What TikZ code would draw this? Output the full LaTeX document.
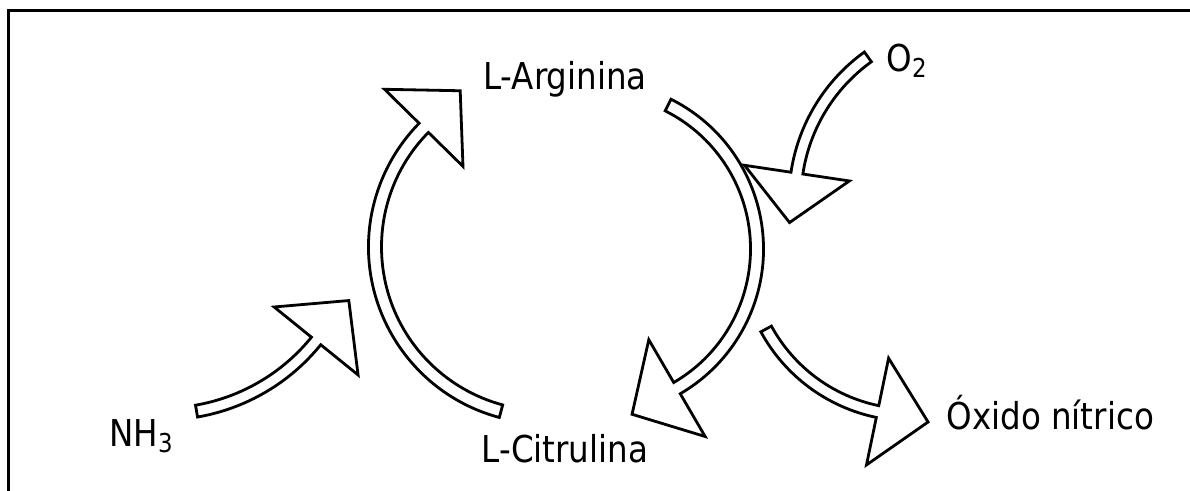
\documentclass[tikz,border=0pt]{standalone}
\usepackage{fontspec}
\setmainfont{DejaVu Sans}[FakeStretch=0.88]
\usetikzlibrary{calc}

% Hollow curved block arrow along a circular arc.
% #1 centre, #2 radius, #3 start angle, #4 end angle,
% #5 half shaft width, #6 half head width, #7 head length
\newcommand\curvedblockarrow[7]{%
  \pgfmathsetmacro\cbaOut{#2+#5}%
  \pgfmathsetmacro\cbaIn{#2-#5}%
  \pgfmathsetmacro\cbaHeadOut{#2+#6}%
  \pgfmathsetmacro\cbaHeadIn{#2-#6}%
  \pgfmathsetmacro\cbaSign{(#4>#3) ? 1 : -1}%
  \pgfmathsetmacro\cbaTipX{#2*cos(#4) - \cbaSign*#7*sin(#4)}%
  \pgfmathsetmacro\cbaTipY{#2*sin(#4) + \cbaSign*#7*cos(#4)}%
  \draw[blockarrow]
    ($(#1)+(#3:\cbaOut)$) arc[start angle=#3, end angle=#4, radius=\cbaOut]
    -- ($(#1)+(#4:\cbaHeadOut)$)
    -- ($(#1)+(\cbaTipX,\cbaTipY)$)
    -- ($(#1)+(#4:\cbaHeadIn)$)
    -- ($(#1)+(#4:\cbaIn)$)
    arc[start angle=#4, end angle=#3, radius=\cbaIn]
    -- cycle;%
}

\tikzset{
  blockarrow/.style={draw=black, fill=white, line width=1.4pt, line join=miter},
  label/.style={inner sep=0pt, font=\fontsize{18.5}{22}\selectfont},
  frameline/.style={line width=1.5pt},
}

\newcommand\lowsub[1]{\raisebox{-3pt}{\fontsize{13}{13}\selectfont #1}}

\begin{document}
\begin{tikzpicture}[x=0.5pt, y=0.5pt]
  \useasboundingbox (0,0) rectangle (1190,491);

  % frame (top and left edges)
  \draw[frameline] (8,0) -- (8,480.5) -- (1190,480.5);

  % labels
  \node[label, anchor=base] (arg) at (565,401) {L-Arginina};
  \node[label, anchor=base] (cit) at (565,28) {L-Citrulina};
  \node[label, anchor=base west] (oxy) at (886,419) {O\lowsub{2}};
  \node[label, anchor=base west] (nh3) at (109,44) {NH\lowsub{3}};
  \node[label, anchor=base west] (no) at (946,61) {Óxido nítrico};

  % arc centres
  \coordinate (cLeft)  at (545,244);
  \coordinate (cRight) at (596,242);
  \coordinate (cOxy)   at (970,292);
  \coordinate (cAmm)   at (163,274);
  \coordinate (cNO)    at (911,241);

  % L-Citrulina -> L-Arginina
  \curvedblockarrow{cLeft}{170}{255}{135.5}{6.5}{55}{52}
  % L-Arginina -> L-Citrulina
  \curvedblockarrow{cRight}{161}{63.4}{-59.8}{6.5}{56}{52}
  % O2 joining
  \curvedblockarrow{cOxy}{175}{125.7}{171.5}{6}{53}{50}
  % NH3 joining
  \curvedblockarrow{cAmm}{197}{279.8}{321}{6}{54}{52}
  % nitric oxide released
  \curvedblockarrow{cNO}{165}{208.6}{258.3}{6}{54.5}{51.6}
\end{tikzpicture}
\end{document}
